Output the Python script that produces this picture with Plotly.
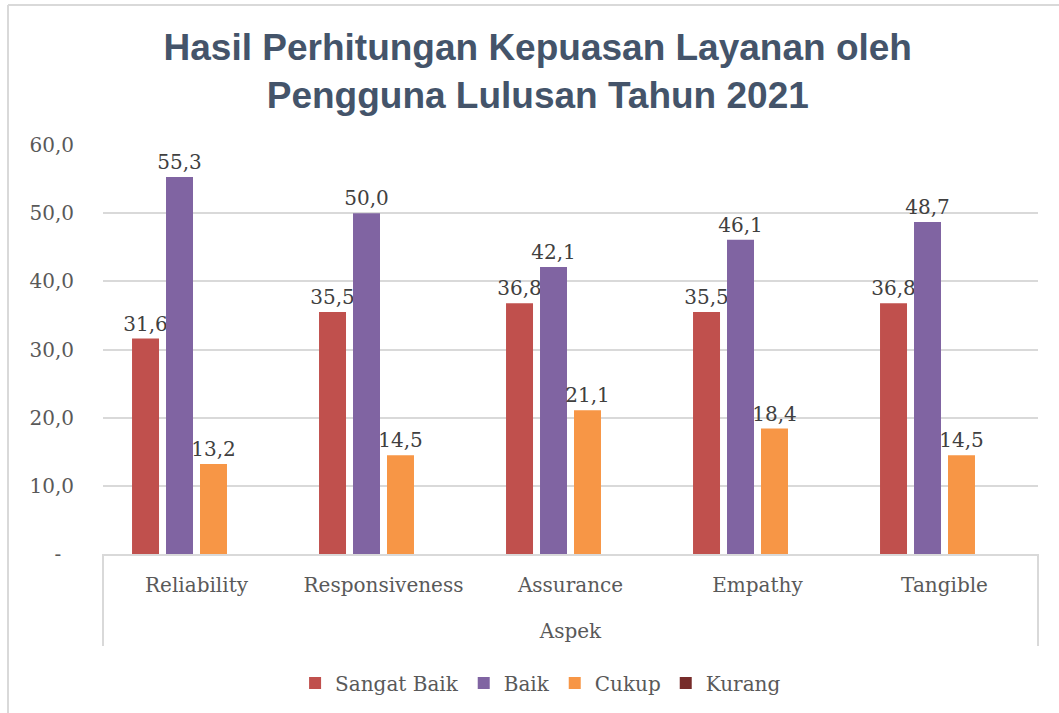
import plotly.graph_objects as go

categories = ["Reliability", "Responsiveness", "Assurance", "Empathy", "Tangible"]
series_names = ["Sangat Baik", "Baik", "Cukup", "Kurang"]
sangat_baik = [31.6, 35.5, 36.8, 35.5, 36.8]
baik = [55.3, 50.0, 42.1, 46.1, 48.7]
cukup = [13.2, 14.5, 21.1, 18.4, 14.5]
kurang = [None, None, None, None, None]
y_tick_vals = [0, 10, 20, 30, 40, 50, 60]
y_tick_text = ["-\u00a0\u00a0", "10,0", "20,0", "30,0", "40,0", "50,0", "60,0"]

colors = ["#C0504D", "#8064A2", "#F79646", "#772C2A"]
W, H = 1059, 713
L, R, T, B = 103, 21, 145, 159
PW, PH = W - L - R, H - T - B

def px_x(p):
    return (p - L) / PW

def px_y(p):
    return (H - B - p) / PH

serif = "DejaVu Serif"
fig = go.Figure()
for name, vals, col in zip(series_names, [sangat_baik, baik, cukup, kurang], colors):
    fig.add_trace(go.Bar(
        x=categories, y=vals, name=name, marker=dict(color=col, line=dict(width=0)),
        texttemplate="%{y:.1f}", textposition="outside", cliponaxis=False,
        constraintext="none",
        textfont=dict(family=serif, size=20, color="#404040"),
    ))

shapes = [
    # box under category axis
    dict(type="line", xref="paper", yref="paper", x0=0, x1=0, y0=0, y1=px_y(646),
         line=dict(color="#D9D9D9", width=2)),
    dict(type="line", xref="paper", yref="paper", x0=1, x1=1, y0=0, y1=px_y(646),
         line=dict(color="#D9D9D9", width=2)),
    # outer chart border
    dict(type="line", xref="paper", yref="paper", x0=px_x(8), x1=px_x(8), y0=px_y(720), y1=px_y(5),
         line=dict(color="#D9D9D9", width=2)),
    dict(type="line", xref="paper", yref="paper", x0=px_x(8), x1=px_x(1070), y0=px_y(5), y1=px_y(5),
         line=dict(color="#D9D9D9", width=2)),
]

fig.update_layout(
    width=W, height=H,
    margin=dict(l=L, r=R, t=T, b=B, autoexpand=False),
    paper_bgcolor="white", plot_bgcolor="white",
    separators=",.",
    barmode="group", bargap=0.273, bargroupgap=0.206,
    title=dict(
        text="Hasil Perhitungan Kepuasan Layanan oleh<br>Pengguna Lulusan Tahun 2021",
        font=dict(family="Liberation Sans", size=37, color="#44546A", weight="bold"),
        x=0.465, xanchor="center", xref="paper",
        y=1 - 60 / H, yanchor="top", yref="container",
    ),
    xaxis=dict(
        showgrid=False, showline=True, linecolor="#D9D9D9", linewidth=2,
        ticks="", tickfont=dict(family=serif, size=20, color="#595959"),
        ticklabelstandoff=12,
        title=dict(text="Aspek", font=dict(family=serif, size=20, color="#595959"), standoff=28),
    ),
    yaxis=dict(
        range=[0, 60], tickvals=y_tick_vals, ticktext=y_tick_text,
        showgrid=True, gridcolor="#D9D9D9", gridwidth=2,
        zeroline=False, showline=False, ticks="",
        tickfont=dict(family=serif, size=20, color="#595959"),
        ticklabelstandoff=28,
    ),
    legend=dict(
        orientation="h", x=0.468, xanchor="center", y=px_y(683), yanchor="middle",
        font=dict(family=serif, size=20, color="#595959"),
        itemwidth=30, traceorder="normal",
    ),
    shapes=shapes,
)

fig.write_html("out.html", config={"displayModeBar": False},
               post_script="document.body.style.margin='0px';")
